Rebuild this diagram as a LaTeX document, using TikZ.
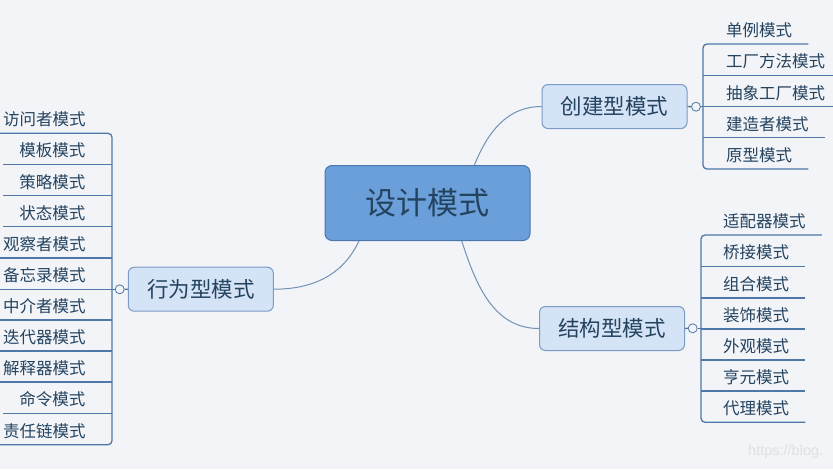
\documentclass[tikz,border=0pt]{standalone}
\usepackage{fontspec}
\setmainfont{Noto Sans CJK SC}
\newfontfamily\wmfont{Liberation Sans}
\usepackage{tikz}
\definecolor{bgpage}{HTML}{F2F4F8}
\definecolor{rootfill}{HTML}{6A9FDA}
\definecolor{rootborder}{HTML}{4A78AE}
\definecolor{topicfill}{HTML}{D5E3F7}
\definecolor{topicborder}{HTML}{7B9CC6}
\definecolor{textblue}{HTML}{24435F}
\definecolor{branchblue}{HTML}{4F78A8}
\definecolor{linkblue}{HTML}{7391B3}
\tikzstyle{root} = [rectangle, rounded corners=7pt, draw=rootborder, fill=rootfill, line width=1pt, minimum width=205pt, minimum height=75pt, text=textblue, font=\fontsize{31}{34}\selectfont]
\tikzstyle{topic} = [rectangle, rounded corners=6pt, draw=topicborder, fill=topicfill, line width=1pt, minimum width=145pt, minimum height=44pt, text=textblue, font=\fontsize{21.5}{24}\selectfont]
\tikzstyle{leafr} = [anchor=south west, inner xsep=16pt, inner ysep=4.5pt, text height=12pt, text depth=3pt, text=textblue, font=\fontsize{16.5}{18}\selectfont]
\tikzstyle{leafl} = [leafr, anchor=south east]
\tikzstyle{fold} = [circle, draw=branchblue, fill=bgpage, line width=0.8pt, inner sep=0pt, minimum size=9pt]
\tikzstyle{branch} = [draw=branchblue, line width=1.3pt, rounded corners=4pt]
\tikzstyle{link} = [draw=linkblue, line width=1pt]

\begin{document}
\begin{tikzpicture}[x=1pt,y=-1pt]
\fill[bgpage] (0,0) rectangle (833,469);
\useasboundingbox (0,0) rectangle (833,469);

\node[root] (design) at (427.5,203) {设计模式};
\node[topic] (create) at (614.5,106.5) {创建型模式};
\node[topic] (struct) at (612,328.5) {结构型模式};
\node[topic] (behave) at (200.8,289.2) {行为型模式};

\draw[link] (design.39) to[out=68,in=180] (create.west);
\draw[link] (design.-48) to[out=-72,in=180] (struct.west);
\draw[link] (design.209) to[out=-115,in=0] (behave.east);

\node[fold] (createfold) at (696,106.7) {};
\node[fold] (structfold) at (692.7,328.3) {};
\node[fold] (behavefold) at (119.7,289.3) {};
\coordinate (createspine) at (703,106.7);
\coordinate (structspine) at (701,328.3);
\coordinate (behavespine) at (112,289.3);

\node[leafr] (c1) at (710,44) {单例模式};
\node[leafr] (c2) at (710,75.5) {工厂方法模式};
\node[leafr] (c3) at (710,106.7) {抽象工厂模式};
\node[leafr] (c4) at (710,137.7) {建造者模式};
\node[leafr] (c5) at (710,169) {原型模式};

\node[leafr] (s1) at (707,235) {适配器模式};
\node[leafr] (s2) at (707,266.5) {桥接模式};
\node[leafr] (s3) at (707,298) {组合模式};
\node[leafr] (s4) at (707,329) {装饰模式};
\node[leafr] (s5) at (707,360) {外观模式};
\node[leafr] (s6) at (707,391) {亨元模式};
\node[leafr] (s7) at (707,422.3) {代理模式};

\node[leafl] (b1) at (101.7,133.3) {访问者模式};
\node[leafl] (b2) at (101.7,164.3) {模板模式};
\node[leafl] (b3) at (101.7,195.7) {策略模式};
\node[leafl] (b4) at (101.7,226.7) {状态模式};
\node[leafl] (b5) at (101.7,258) {观察者模式};
\node[leafl] (b6) at (101.7,289.3) {备忘录模式};
\node[leafl] (b7) at (101.7,320) {中介者模式};
\node[leafl] (b8) at (101.7,351) {迭代器模式};
\node[leafl] (b9) at (101.7,382) {解释器模式};
\node[leafl] (b10) at (101.7,413.3) {命令模式};
\node[leafl] (b11) at (101.7,444.7) {责任链模式};

\draw[branch] (create.east) -- (createfold.west);
\draw[branch] (createfold.east) -- (createspine);
\draw[branch] (c1.south east) -- (createspine |- c1.south) -- (createspine |- c5.south) -- (c5.south east);
\draw[branch] (createspine |- c2.south) -- (c2.south east);
\draw[branch] (createspine |- c3.south) -- (c3.south east);
\draw[branch] (createspine |- c4.south) -- (c4.south east);

\draw[branch] (struct.east) -- (structfold.west);
\draw[branch] (structfold.east) -- (structspine);
\draw[branch] (s1.south east) -- (structspine |- s1.south) -- (structspine |- s7.south) -- (s7.south east);
\draw[branch] (structspine |- s2.south) -- (s2.south east);
\draw[branch] (structspine |- s3.south) -- (s3.south east);
\draw[branch] (structspine |- s4.south) -- (s4.south east);
\draw[branch] (structspine |- s5.south) -- (s5.south east);
\draw[branch] (structspine |- s6.south) -- (s6.south east);

\draw[branch] (behave.west) -- (behavefold.east);
\draw[branch] (behavefold.west) -- (behavespine);
\draw[branch] (b1.south west) -- (behavespine |- b1.south) -- (behavespine |- b11.south) -- (b11.south west);
\draw[branch] (b2.south west) -- (behavespine |- b2.south);
\draw[branch] (b3.south west) -- (behavespine |- b3.south);
\draw[branch] (b4.south west) -- (behavespine |- b4.south);
\draw[branch] (b5.south west) -- (behavespine |- b5.south);
\draw[branch] (b6.south west) -- (behavespine |- b6.south);
\draw[branch] (b7.south west) -- (behavespine |- b7.south);
\draw[branch] (b8.south west) -- (behavespine |- b8.south);
\draw[branch] (b9.south west) -- (behavespine |- b9.south);
\draw[branch] (b10.south west) -- (behavespine |- b10.south);

\node[anchor=west, inner sep=0pt, text=black!12, font=\wmfont\fontsize{14.5}{16}\selectfont] (mark) at (748,452) {https://blog.};
\end{tikzpicture}
\end{document}
